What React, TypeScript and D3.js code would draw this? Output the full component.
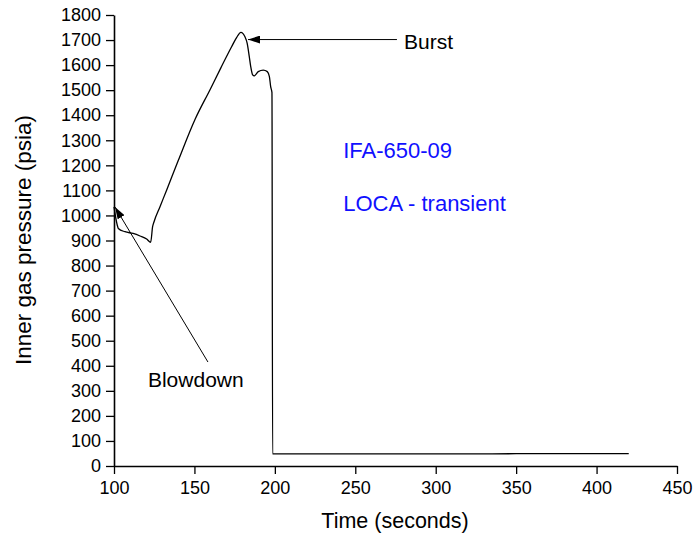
import React, { useEffect, useRef } from "react";
import * as d3 from "d3";

const times = [100, 102, 102.7, 106.8, 111.9, 116.2, 120.3, 122.8, 124, 124.9, 128.6, 132.7, 140, 150.35, 159.7, 166.5, 173.1, 176.2, 178.9, 181.4, 182.8, 184.1, 185, 186.2, 187.2, 189.7, 192.8, 195.3, 196.6, 197.4, 198.2, 198.6, 250, 300, 350, 420];
const pressure = [1034, 962, 948, 935, 928, 918, 906, 893, 955, 975, 1035, 1101, 1220, 1383, 1502, 1590, 1673, 1710, 1731, 1713, 1687, 1634, 1594, 1561, 1557, 1574, 1580, 1574, 1554, 1514, 1490, 48, 48, 48, 49, 49];

const xTicks = [100, 150, 200, 250, 300, 350, 400, 450];
const yTicks = [0, 100, 200, 300, 400, 500, 600, 700, 800, 900, 1000, 1100, 1200, 1300, 1400, 1500, 1600, 1700, 1800];

// annotations in data coordinates
const burstText = { t: 280.3, v: 1664, label: "Burst" };
const burstArrow = { t0: 275.9, v0: 1702, t1: 183.3, v1: 1702 };
const blowText = { t: 121.1, v: 315, label: "Blowdown" };
const blowArrow = { t0: 158.4, v0: 415, t1: 100.6, v1: 1034 };
const blueLabels = [
  { t: 242.5, v: 1228, label: "IFA-650-09" },
  { t: 242.5, v: 1018, label: "LOCA - transient" },
];

const W = 695;
const H = 539;
const FONT = "'Liberation Sans', Arial, sans-serif";

export default function App() {
  const ref = useRef<SVGSVGElement>(null);
  useEffect(() => {
    const svg = d3.select(ref.current);
    svg.selectAll("*").remove();
    const x = d3.scaleLinear().domain([100, 450]).range([114, 677]);
    const y = d3.scaleLinear().domain([0, 1800]).range([466, 15]);

    const defs = svg.append("defs");
    defs
      .append("marker")
      .attr("id", "ah")
      .attr("viewBox", "0 0 12 8")
      .attr("refX", 12)
      .attr("refY", 4)
      .attr("markerWidth", 12)
      .attr("markerHeight", 8)
      .attr("markerUnits", "userSpaceOnUse")
      .attr("orient", "auto")
      .append("path")
      .attr("d", "M0,0 L12,4 L0,8 Z")
      .attr("fill", "#000");

    const gx = svg.append("g").attr("transform", `translate(0,${y(0)})`);
    gx.call(
      d3.axisBottom(x).tickValues(d3.range(125, 450, 50)).tickSize(4).tickFormat(() => "")
    );
    gx.call(
      d3.axisBottom(x).tickValues(xTicks).tickSize(8).tickSizeOuter(0).tickPadding(7).tickFormat(d3.format("d"))
    );
    const gy = svg.append("g").attr("transform", `translate(${x(100)},0)`);
    gy.call(
      d3.axisLeft(y).tickValues(d3.range(50, 1800, 100)).tickSize(4).tickFormat(() => "")
    );
    gy.call(
      d3.axisLeft(y).tickValues(yTicks).tickSize(8).tickSizeOuter(0).tickPadding(5).tickFormat(d3.format("d"))
    );
    svg.selectAll(".domain").attr("stroke", "#000").attr("stroke-width", 1.6);
    svg.selectAll(".tick line").attr("stroke", "#000").attr("stroke-width", 1.3);
    svg
      .selectAll(".tick text")
      .attr("fill", "#000")
      .style("font-family", FONT)
      .style("font-size", "18px");

    const data = times.map((t, i) => [t, pressure[i]] as [number, number]);
    const line = d3
      .line<[number, number]>()
      .x((d) => x(d[0]))
      .y((d) => y(d[1]))
      .curve(d3.curveMonotoneX);
    svg
      .append("path")
      .attr("d", line(data))
      .attr("fill", "none")
      .attr("stroke", "#000")
      .attr("stroke-width", 1.3);

    const arrow = (a: { t0: number; v0: number; t1: number; v1: number }) =>
      svg
        .append("line")
        .attr("x1", x(a.t0))
        .attr("y1", y(a.v0))
        .attr("x2", x(a.t1))
        .attr("y2", y(a.v1))
        .attr("stroke", "#000")
        .attr("stroke-width", 1)
        .attr("marker-end", "url(#ah)");
    arrow(burstArrow);
    arrow(blowArrow);

    const txt = (t: number, v: number, s: string, color: string, size: string) =>
      svg
        .append("text")
        .attr("x", x(t))
        .attr("y", y(v))
        .attr("fill", color)
        .style("font-family", FONT)
        .style("font-size", size)
        .text(s);
    txt(burstText.t, burstText.v, burstText.label, "#000", "21px");
    txt(blowText.t, blowText.v, blowText.label, "#000", "21px");
    blueLabels.forEach((b) => txt(b.t, b.v, b.label, "#1010ff", "22px"));

    svg
      .append("text")
      .attr("x", 395)
      .attr("y", 528)
      .attr("text-anchor", "middle")
      .style("font-family", FONT)
      .style("font-size", "21.5px")
      .text("Time (seconds)");
    svg
      .append("text")
      .attr("transform", "translate(31,240) rotate(-90)")
      .attr("text-anchor", "middle")
      .style("font-family", FONT)
      .style("font-size", "22.5px")
      .text("Inner gas pressure (psia)");
  }, []);

  return (
    <div style={{ position: "absolute", left: 0, top: 0 }}>
      <svg ref={ref} width={W} height={H} style={{ display: "block", background: "#fff" }} />
    </div>
  );
}
